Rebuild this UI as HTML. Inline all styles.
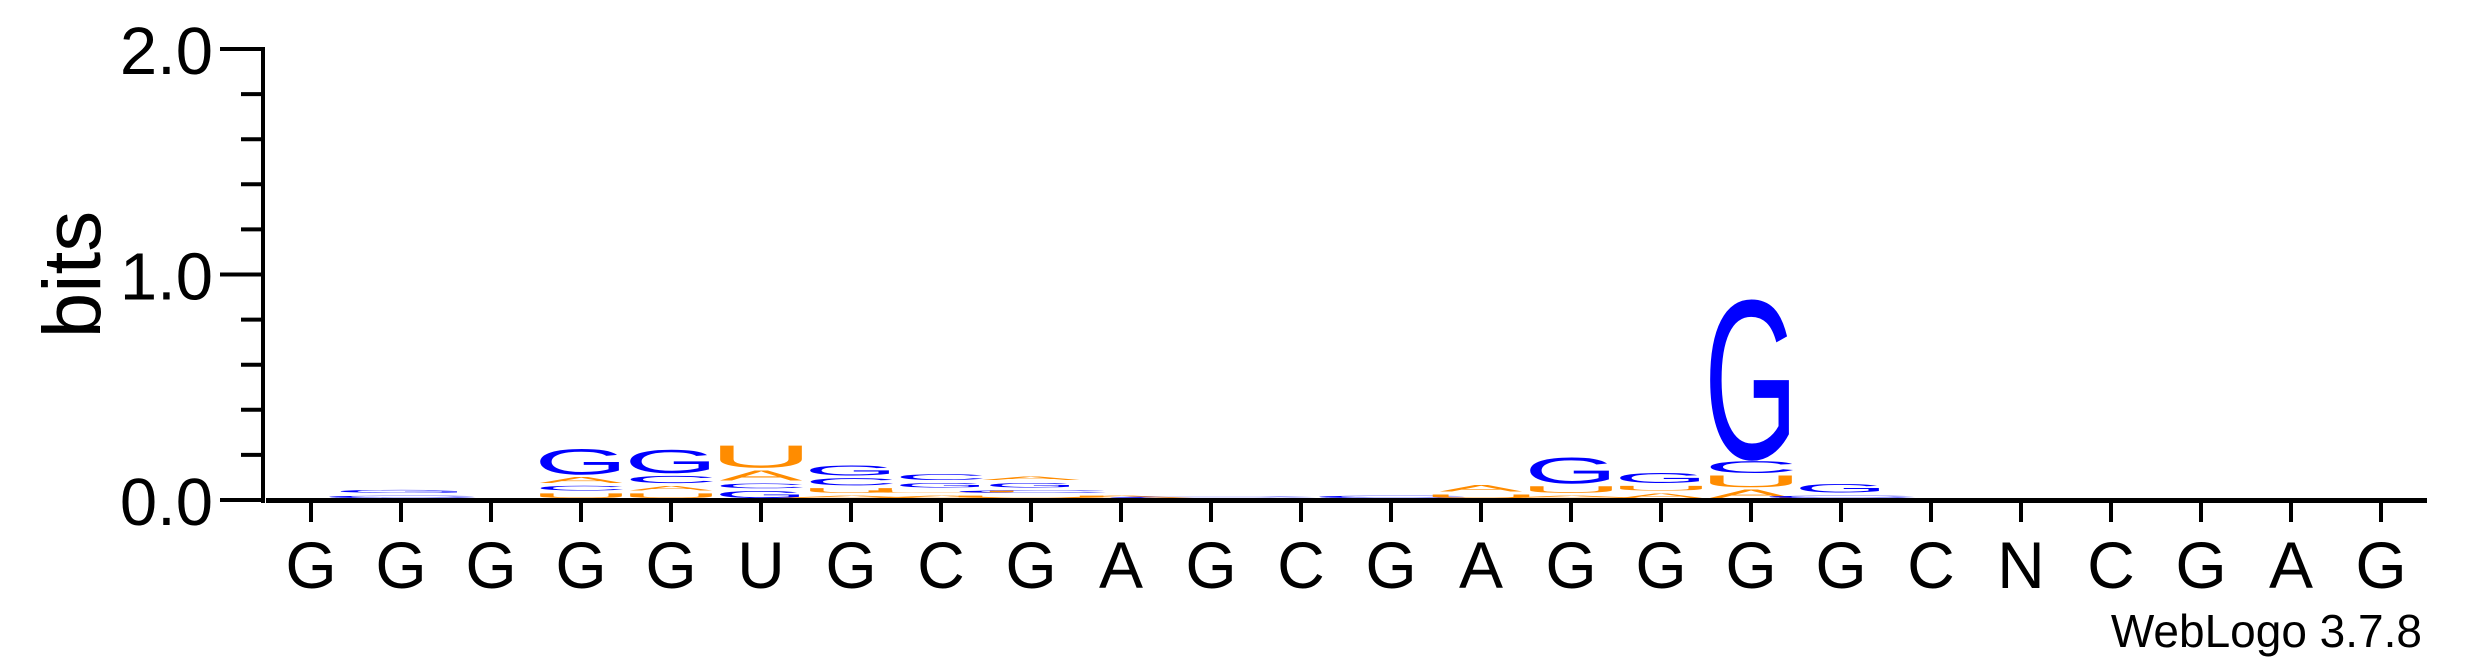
<!DOCTYPE html>
<html><head><meta charset="utf-8"><style>
html,body{margin:0;padding:0;background:#fff;}
svg{display:block;font-family:"Liberation Sans",Arial,sans-serif;}
</style></head><body>
<svg id="logo" width="2475" height="667" viewBox="0 0 2475 667" xmlns="http://www.w3.org/2000/svg">
<g id="stacks"></g>
<g id="axes"></g>
</svg>
<script>
// ---- data ----
const positions = ["G","G","G","G","G","U","G","C","G","A","G","C","G","A","G","G","G","G","C","N","C","G","A","G"];
// stacks bottom->top: [letter, bits]
const stack0 = [];
const stack1 = [["C",0.01],["G",0.012]];
const stack2 = [];
const stack3 = [["U",0.02],["C",0.02],["A",0.025],["G",0.106]];
const stack4 = [["U",0.02],["A",0.02],["C",0.03],["G",0.1]];
const stack5 = [["G",0.03],["C",0.02],["A",0.045],["U",0.095]];
const stack6 = [["A",0.01],["U",0.02],["C",0.03],["G",0.045]];
const stack7 = [["A",0.01],["U",0.01],["G",0.02],["C",0.025]];
const stack8 = [["U",0.01],["C",0.01],["G",0.02],["A",0.015]];
const stack9 = [["A",0.01]];
const stack10 = [["C",0.006]];
const stack11 = [];
const stack12 = [["C",0.01]];
const stack13 = [["U",0.015],["A",0.028]];
const stack14 = [["A",0.01],["U",0.028],["G",0.11]];
const stack15 = [["A",0.02],["U",0.02],["G",0.045]];
const stack16 = [["A",0.035],["U",0.05],["C",0.05],["G",0.677]];
const stack17 = [["C",0.01],["G",0.035]];
const stacks = [stack0,stack1,stack2,stack3,stack4,stack5,stack6,stack7,stack8,stack9,stack10,stack11,stack12,stack13,stack14,stack15,stack16,stack17,[],[],[],[],[],[]];
const yTicks = [0,0.2,0.4,0.6,0.8,1.0,1.2,1.4,1.6,1.8,2.0];
const yLabels = ["0.0","1.0","2.0"];
const yLabelVals = [0,1,2];

// ---- scales ----
const NS="http://www.w3.org/2000/svg";
const y0=500, pxPerBit=225.5, axisX=263;
const yS = v => y0 - v*pxPerBit;
const xS = i => 311 + 90*i;
const colors={G:"#0000FF",C:"#0000FF",A:"#FF8C00",U:"#FF8C00"};
const inkW={G:68,C:63,A:66,U:57};
function mk(tag,attrs,parent){const e=document.createElementNS(NS,tag);for(const k in attrs)e.setAttribute(k,attrs[k]);parent.appendChild(e);return e;}

const gS=document.getElementById('stacks');
stacks.forEach((st,i)=>{
  let base=498;
  st.forEach(([L,b])=>{
    const h=b*pxPerBit;
    if(h<0.3){return;}
    let w=82*Math.min(2.5,Math.max(1,4/h));
    const t=mk('text',{x:0,y:0,'text-anchor':'middle','font-size':100,fill:colors[L],
      transform:`translate(${xS(i)},${base}) scale(${w/inkW[L]},${h/67})`},gS);
    t.textContent=L;
    
    
    base-=h+3;
  });
});

const gA=document.getElementById('axes');
let e=mk('line',{x1:axisX,y1:yS(2)-2,x2:axisX,y2:y0+3,stroke:'#000','stroke-width':4},gA);


yTicks.forEach(v=>{
  const major=Math.abs(v-Math.round(v))<1e-6;
  const t=mk('line',{x1:major?220:241,y1:yS(v),x2:axisX,y2:yS(v),stroke:'#000','stroke-width':4},gA);
  
  
});
yLabelVals.forEach((v,k)=>{
  const t=mk('text',{x:213,y:yS(v)+25,'text-anchor':'end','font-size':67,fill:'#000'},gA);
  t.textContent=yLabels[k];
  
  
});
e=mk('text',{x:0,y:0,'text-anchor':'middle','font-size':82,fill:'#000',transform:`translate(100,${yS(1)}) rotate(-90)`},gA);
e.textContent='bits';


e=mk('line',{x1:266,y1:500.5,x2:2427,y2:500.5,stroke:'#000','stroke-width':5},gA);


positions.forEach((p,i)=>{
  const t=mk('line',{x1:xS(i),y1:503,x2:xS(i),y2:522,stroke:'#000','stroke-width':4},gA);
  
  
  const l=mk('text',{x:xS(i),y:588,'text-anchor':'middle','font-size':66,fill:'#000'},gA);
  l.textContent=p;
  
  
});
e=mk('text',{x:2422,y:647,'text-anchor':'end','font-size':46,fill:'#000'},gA);
e.textContent='WebLogo 3.7.8';


</script>
</body></html>
